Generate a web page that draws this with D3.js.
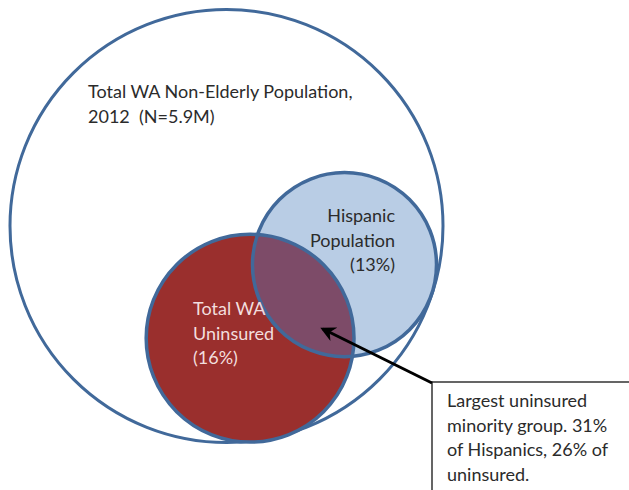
<!DOCTYPE html>
<html>
<head>
<meta charset="utf-8">
<script src="https://cdn.jsdelivr.net/npm/d3@7"></script>
<style>
  body { margin: 0; background: #fff; }
  text { font-family: Lato, "Open Sans", sans-serif; white-space: pre; }
</style>
</head>
<body>
<svg id="chart" width="629" height="490"></svg>
<script>
// circles in "venn units" (big population circle has radius 100)
var circleNames = ["population", "hispanic", "uninsured"];
var circleCx = [0, 54.5, 10.9];
var circleCy = [0, 17.8, 51.7];
var circleR = [100, 42.5, 48];

var popLabel = ["Total WA Non-Elderly Population,", "2012  (N=5.9M)"];
var hispLabel = ["Hispanic", "Population", "(13%)"];
var uninsLabel = ["Total WA", "Uninsured", "(16%)"];
var noteLabel = ["Largest uninsured", "minority group. 31%", "of Hispanics, 26% of", "uninsured."];

var svg = d3.select("#chart");

var xScale = d3.scaleLinear().domain([-100, 100]).range([10, 443]);
var yScale = d3.scaleLinear().domain([-100, 100]).range([9, 443]);
var rScale = d3.scaleLinear().domain([0, 100]).range([0, 216.5]);

var circles = circleNames.map(function (n, i) {
  return { name: n, cx: xScale(circleCx[i]), cy: yScale(circleCy[i]), r: rScale(circleR[i]) };
});

var stroke = "#41699a";

// big circle
svg.append("circle")
  .attr("cx", circles[0].cx)
  .attr("cy", circles[0].cy)
  .attr("r", circles[0].r)
  .attr("fill", "#fff")
  .attr("stroke", stroke)
  .attr("stroke-width", 3);

svg.append("defs").append("clipPath")
  .attr("id", "hispClip")
  .append("circle")
  .attr("cx", circles[1].cx)
  .attr("cy", circles[1].cy)
  .attr("r", circles[1].r);

// fills
svg.append("circle")
  .attr("cx", circles[1].cx).attr("cy", circles[1].cy).attr("r", circles[1].r)
  .attr("fill", "#b9cde5");
svg.append("circle")
  .attr("cx", circles[2].cx).attr("cy", circles[2].cy).attr("r", circles[2].r)
  .attr("fill", "#9a2f2d");
// overlap
svg.append("circle")
  .attr("cx", circles[2].cx).attr("cy", circles[2].cy).attr("r", circles[2].r)
  .attr("clip-path", "url(#hispClip)")
  .attr("fill", "#7d4b68");

// outlines of the two small circles
svg.selectAll("circle.outline")
  .data(circles.slice(1))
  .enter()
  .append("circle")
  .attr("class", "outline")
  .attr("cx", function (d) { return d.cx; })
  .attr("cy", function (d) { return d.cy; })
  .attr("r", function (d) { return d.r; })
  .attr("fill", "none")
  .attr("stroke", stroke)
  .attr("stroke-width", 3.5);

var addLines = function (lines, x, y0, anchor, color) {
  svg.append("g")
    .selectAll("text")
    .data(lines)
    .enter()
    .append("text")
    .attr("x", x)
    .attr("y", function (d, i) { return y0 + i * 24.5; })
    .attr("text-anchor", anchor)
    .attr("font-size", 18)
    .attr("fill", color)
    .text(function (d) { return d; });
};

addLines(popLabel, 88, 98, "start", "#2b2b2b");
addLines(hispLabel, 395, 222, "end", "#2b2b2b");
addLines(uninsLabel, 193, 315, "start", "#f2dede");

// note box
svg.append("rect")
  .attr("x", 432)
  .attr("y", 382)
  .attr("width", 220)
  .attr("height", 140)
  .attr("fill", "#fff")
  .attr("stroke", "#333")
  .attr("stroke-width", 1.5);

addLines(noteLabel, 447, 407, "start", "#2b2b2b");

// arrow
svg.append("defs").append("marker")
  .attr("id", "head")
  .attr("viewBox", "0 0 10 10")
  .attr("refX", 8)
  .attr("refY", 5)
  .attr("markerWidth", 5)
  .attr("markerHeight", 5)
  .attr("orient", "auto")
  .append("path")
  .attr("d", "M0,0 L10,5 L0,10 L3,5 Z")
  .attr("fill", "#000");

svg.append("line")
  .attr("x1", 432)
  .attr("y1", 383)
  .attr("x2", 323)
  .attr("y2", 329)
  .attr("stroke", "#000")
  .attr("stroke-width", 3)
  .attr("marker-end", "url(#head)");
</script>
</body>
</html>
